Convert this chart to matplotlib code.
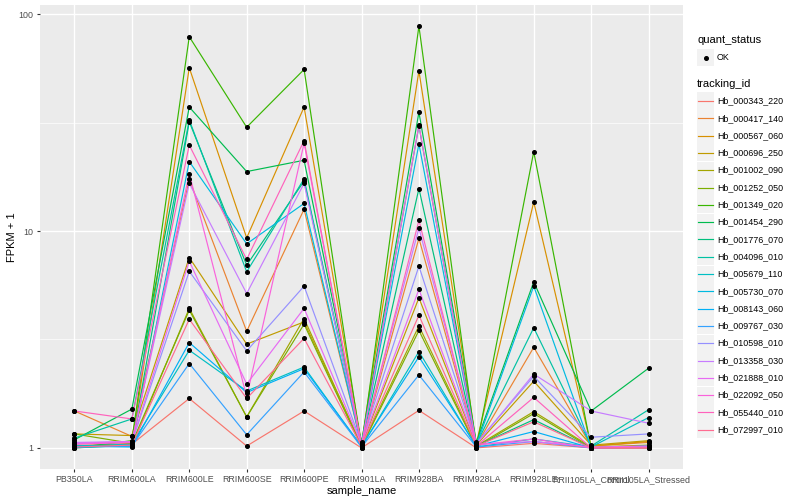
import matplotlib
matplotlib.use("Agg")
import matplotlib.pyplot as plt
from matplotlib.lines import Line2D
from matplotlib.patches import Rectangle
import numpy as np

plt.rcParams['font.family'] = ['Liberation Sans', 'DejaVu Sans']

# samples on the x axis
sample_name = ["PB350LA", "RRIM600LA", "RRIM600LE", "RRIM600SE", "RRIM600PE",
               "RRIM901LA", "RRIM928BA", "RRIM928LA", "RRIM928LE",
               "RRII105LA_Control", "RRII105LA_Stressed"]

tracking_id = ["Hb_000343_220", "Hb_000417_140", "Hb_000567_060", "Hb_000696_250",
               "Hb_001002_090", "Hb_001252_050", "Hb_001349_020", "Hb_001454_290",
               "Hb_001776_070", "Hb_004096_010", "Hb_005679_110", "Hb_005730_070",
               "Hb_008143_060", "Hb_009767_030", "Hb_010598_010", "Hb_013358_030",
               "Hb_021888_010", "Hb_022092_050", "Hb_055440_010", "Hb_072997_010"]

# FPKM + 1, one row per tracking_id, columns follow sample_name
fpkm_plus1 = [
    [1.00, 1.04, 1.69, 1.02, 1.48, 1.00, 1.49, 1.00, 1.05, 1.00, 1.00],
    [1.48, 1.13, 17.3, 3.45, 12.6, 1.03, 9.25, 1.03, 2.91, 1.02, 1.06],
    [1.02, 1.05, 56.6, 9.30, 37.3, 1.05, 54.8, 1.05, 13.6, 1.02, 1.07],
    [1.16, 1.14, 7.55, 3.01, 3.81, 1.03, 4.92, 1.03, 2.03, 1.03, 1.08],
    [1.03, 1.02, 4.40, 1.39, 3.95, 1.02, 3.65, 1.02, 1.47, 1.01, 1.03],
    [1.16, 1.05, 4.32, 1.39, 3.72, 1.01, 3.48, 1.01, 1.44, 1.00, 1.02],
    [1.00, 1.08, 78.7, 30.1, 55.6, 1.00, 88.1, 1.00, 23.2, 1.00, 1.00],
    [1.09, 1.51, 37.3, 18.8, 21.2, 1.06, 35.3, 1.06, 5.83, 1.48, 2.33],
    [1.00, 1.03, 31.9, 6.96, 17.0, 1.03, 15.7, 1.02, 1.35, 1.00, 1.02],
    [1.11, 1.36, 32.5, 6.49, 17.4, 1.04, 30.5, 1.04, 3.58, 1.02, 1.50],
    [1.02, 1.04, 2.82, 1.83, 2.36, 1.01, 2.78, 1.01, 1.10, 1.01, 1.38],
    [1.01, 1.02, 20.9, 8.73, 13.4, 1.03, 25.2, 1.03, 5.57, 1.00, 1.01],
    [1.02, 1.01, 3.06, 1.80, 2.32, 1.02, 2.63, 1.02, 1.19, 1.00, 1.01],
    [1.01, 1.02, 2.45, 1.15, 2.24, 1.01, 2.17, 1.01, 1.07, 1.00, 1.02],
    [1.05, 1.06, 6.52, 2.80, 5.57, 1.05, 6.89, 1.05, 2.14, 1.12, 1.16],
    [1.06, 1.07, 16.6, 5.15, 16.6, 1.04, 10.3, 1.04, 2.19, 1.48, 1.30],
    [1.05, 1.07, 7.26, 1.97, 4.40, 1.04, 5.38, 1.04, 1.07, 1.01, 1.02],
    [1.04, 1.06, 18.4, 1.72, 25.4, 1.03, 30.7, 1.03, 1.10, 1.00, 1.01],
    [1.48, 1.36, 24.9, 7.40, 26.1, 1.02, 11.2, 1.02, 1.71, 1.00, 1.00],
    [1.01, 1.03, 3.92, 1.69, 3.20, 1.02, 4.09, 1.02, 1.32, 1.00, 1.00],
]

# ggplot2 default hue palette, 20 levels
hue_colors = ["#F8766D", "#EA8331", "#D89000", "#C09B00", "#A3A500", "#7CAE00",
              "#39B600", "#00BB4E", "#00BF7D", "#00C1A3", "#00BFC4", "#00BAE0",
              "#00B0F6", "#35A2FF", "#9590FF", "#C77CFF", "#E76BF3", "#FA62DB",
              "#FF62BC", "#FF6C91"]

W, H = 800, 500
fig = plt.figure(figsize=(8, 5), dpi=100)
ax = fig.add_axes([40 / W, 1 - 469 / H, (683 - 40) / W, (469 - 5) / H])
ax.set_facecolor("#EBEBEB")

x = np.arange(len(sample_name))
for vals, col in zip(fpkm_plus1, hue_colors):
    ax.plot(x, vals, color=col, lw=0.85, zorder=2)
for vals in fpkm_plus1:
    ax.plot(x, vals, ls="none", marker="o", ms=2.6, color="black", zorder=3)

ax.set_yscale("log")
lo, hi = 0.0, np.log10(max(max(r) for r in fpkm_plus1))
pad = 0.05 * (hi - lo)
ax.set_ylim(10 ** (lo - pad), 10 ** (hi + pad))
ax.set_xlim(-0.6, len(sample_name) - 0.4)

ax.set_yticks([1, 10, 100])
ax.set_yticklabels(["1", "10", "100"])
ax.yaxis.set_minor_locator(matplotlib.ticker.FixedLocator([10 ** 0.5, 10 ** 1.5]))
ax.yaxis.set_minor_formatter(matplotlib.ticker.NullFormatter())
ax.set_xticks(x)
ax.set_xticklabels(sample_name)

ax.grid(True, which="major", color="white", lw=1.0, zorder=0)
ax.grid(True, which="minor", axis="y", color="white", lw=0.5, zorder=0)
ax.set_axisbelow(True)
for s in ax.spines.values():
    s.set_visible(False)
ax.tick_params(which="major", length=2.5, width=0.8, color="#333333",
               labelsize=6.4, labelcolor="#4D4D4D", pad=2)
ax.tick_params(which="minor", length=0)

ax.set_xlabel("sample_name", fontsize=8, color="black", labelpad=1)
ax.set_ylabel("FPKM + 1", fontsize=8, color="black", labelpad=1.5)


def fx(px):
    return px / W


def fy(py):
    return 1 - py / H


# legend: quant_status
fig.text(fx(697), fy(40), "quant_status", fontsize=8, va="center", ha="left")
fig.patches.append(Rectangle((fx(697), fy(66)), 17 / W, 17 / H,
                             transform=fig.transFigure, facecolor="#F2F2F2",
                             edgecolor="none"))
fig.lines.append(Line2D([fx(705.5)], [fy(57.5)], transform=fig.transFigure,
                        marker="o", ms=2.6, color="black", ls="none"))
fig.text(fx(717), fy(57.5), "OK", fontsize=6.4, va="center", ha="left")

# legend: tracking_id
fig.text(fx(697), fy(84), "tracking_id", fontsize=8, va="center", ha="left")
for i, (name, col) in enumerate(zip(tracking_id, hue_colors)):
    cy = 101 + i * 17.3
    fig.patches.append(Rectangle((fx(697), fy(cy + 8.5)), 17 / W, 17 / H,
                                 transform=fig.transFigure, facecolor="#F2F2F2",
                                 edgecolor="none"))
    fig.lines.append(Line2D([fx(698), fx(713)], [fy(cy), fy(cy)],
                            transform=fig.transFigure, color=col, lw=0.85))
    fig.text(fx(717), fy(cy), name, fontsize=6.4, va="center", ha="left")

fig.savefig("out.png", dpi=100)
